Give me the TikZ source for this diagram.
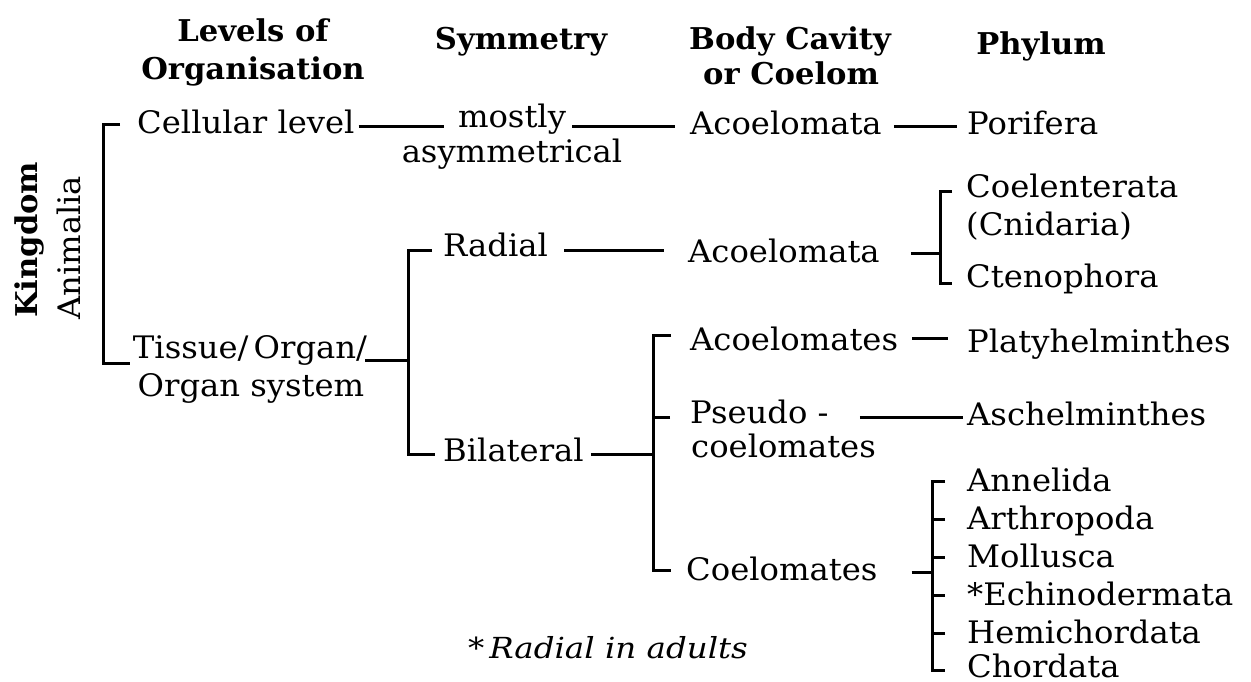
\documentclass[tikz,border=0pt]{standalone}
\usepackage{fontspec}
\setmainfont{DejaVu Serif}[FakeStretch=1.04]
\newfontfamily\hdrfont{DejaVu Serif}[FakeStretch=1.02]
\newfontfamily\notefont{DejaVu Serif}[FakeStretch=1.12]
\usetikzlibrary{calc}
\begin{document}
\begin{tikzpicture}[x=1pt,y=-1pt,
  txt/.style={anchor=base west, inner sep=0pt, font=\fontsize{31}{36}\selectfont},
  txtc/.style={txt, anchor=base},
  hdr/.style={anchor=base, inner sep=0pt, font=\hdrfont\fontsize{30}{34}\selectfont\bfseries},
  conn/.style={line width=3pt, line cap=butt, line join=miter}]
\useasboundingbox[fill=white] (0,0) rectangle (1251,682);
% headers
\node[hdr] (h1a) at (253,42) {Levels of};
\node[hdr] (h1b) at (253,80) {Organisation};
\node[hdr] (h2) at (521,50) {Symmetry};
\node[hdr] (h3a) at (790,50) {Body Cavity};
\node[hdr] (h3b) at (791,85) {or Coelom};
\node[hdr] (h4) at (1041,55) {Phylum};
% kingdom
\node[hdr, anchor=base west, rotate=90] (king) at (37,318) {Kingdom};
\node[txt, rotate=90] (anim) at (80,320) {Animalia};
% level column
\node[txt] (cell) at (137,134) {Cellular level};
\node[txtc] (tis1) at (250,358) {Tissue/\,Organ/};
\node[txtc] (tis2) at (251,396) {Organ system};
% symmetry column
\node[txtc] (mostly) at (512,128) {mostly};
\node[txtc] (asym) at (512,163) {asymmetrical};
\node[txt] (radial) at (443,256) {Radial};
\node[txt] (bilat) at (443,461) {Bilateral};
% body cavity column
\node[txt] (aco1) at (690,135) {Acoelomata};
\node[txt] (aco2) at (688,262) {Acoelomata};
\node[txt] (acoels) at (690,350) {Acoelomates};
\node[txt] (pseudo1) at (690,423) {Pseudo -};
\node[txt] (pseudo2) at (691,457) {coelomates};
\node[txt] (coels) at (686,580) {Coelomates};
% phylum column
\node[txt] (pori) at (967,135) {Porifera};
\node[txt] (coel) at (966,197) {Coelenterata};
\node[txt] (cnid) at (966,236) {(Cnidaria)};
\node[txt] (cten) at (966,287) {Ctenophora};
\node[txt] (platy) at (967,352) {Platyhelminthes};
\node[txt] (asch) at (967,425) {Aschelminthes};
\node[txt] (anne) at (967,491) {Annelida};
\node[txt] (arth) at (967,529) {Arthropoda};
\node[txt] (moll) at (967,567) {Mollusca};
\node[txt] (echi) at (967,605) {*Echinodermata};
\node[txt] (hemi) at (967,643) {Hemichordata};
\node[txt] (chor) at (967,677) {Chordata};
% note
\node[txt, font=\notefont\fontsize{29}{34}\selectfont] (note) at (468,658) {*\,\textit{Radial in adults}};
% junction coordinates
\coordinate (j2) at (408,360);
\coordinate (j3) at (940,253);
\coordinate (j4) at (653,454);
\coordinate (j5) at (932,572);
% connectors
\draw[conn] ($(cell.base west)+(-17,-9)$) -- ++(-17,0) |- ($(tis1.base west)+(-3,5)$);
\draw[conn] ($(cell.base east)+(4,-7)$) -- ($(mostly.base west)+(-14,-1)$);
\draw[conn] ($(mostly.base east)+(6,-1)$) -- ($(aco1.base west)+(-15,-8)$);
\draw[conn] ($(aco1.base east)+(12,-8)$) -- ($(pori.base west)+(-10,-8)$);
\draw[conn] ($(tis1.base east)+(-2,2)$) -- (j2);
\draw[conn] ($(radial.base west)+(-11,-6)$) -- ++(-24,0) |- ($(bilat.base west)+(-8,-7)$);
\draw[conn] ($(radial.base east)+(16,-6)$) -- ($(aco2.base west)+(-24,-12)$);
\draw[conn] ($(aco2.base east)+(31,-9)$) -- (j3);
\draw[conn] ($(coel.base west)+(-14,-5)$) -- ++(-12,0) |- ($(cten.base west)+(-14,-4)$);
\draw[conn] ($(bilat.base east)+(7,-7)$) -- (j4);
\draw[conn] ($(acoels.base west)+(-19,-15)$) -- ++(-18,0) |- ($(coels.base west)+(-15,-10)$);
\draw[conn] ($(pseudo1.base west)+(-20,-6)$) -- ++(-17,0);
\draw[conn] ($(acoels.base east)+(14,-12)$) -- ($(platy.base west)+(-19,-14)$);
\draw[conn] ($(pseudo1.base east)+(31,-6)$) -- ($(asch.base west)+(-4,-8)$);
\draw[conn] ($(coels.base east)+(34,-8)$) -- (j5);
\draw[conn] ($(anne.base west)+(-22,-10)$) -- ++(-13,0) |- ($(chor.base west)+(-22,-7)$);
\foreach \n in {arth,moll,echi,hemi}
  \draw[conn] ($(\n.base west)+(-22,-10)$) -- ++(-13,0);
\end{tikzpicture}
\end{document}
